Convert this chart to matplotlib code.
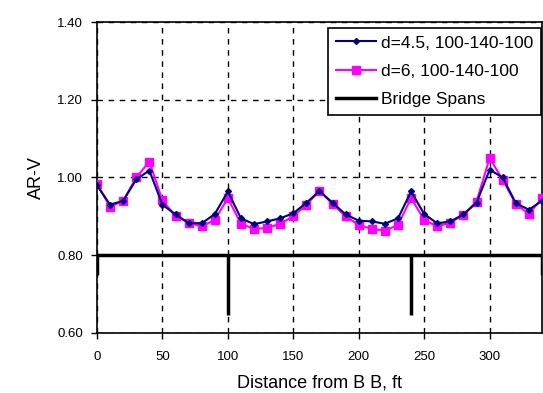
"""AR-V along the bridge for two girder depths, with the bridge spans drawn in."""

import matplotlib

matplotlib.use("Agg")
import matplotlib.pyplot as plt

distance = list(range(0, 350, 10))
arv_d45 = [0.98, 0.93, 0.94, 0.995, 1.018, 0.93, 0.905, 0.883, 0.882, 0.906,
           0.964, 0.895, 0.88, 0.887, 0.895, 0.908, 0.935, 0.965, 0.935, 0.905,
           0.889, 0.887, 0.881, 0.895, 0.964, 0.906, 0.882, 0.887, 0.905, 0.935,
           1.02, 1.0, 0.934, 0.917, 0.94]
arv_d6 = [0.983, 0.925, 0.94, 1.0, 1.041, 0.941, 0.901, 0.884, 0.874, 0.891,
          0.947, 0.881, 0.868, 0.87, 0.881, 0.9, 0.93, 0.966, 0.932, 0.9,
          0.878, 0.868, 0.863, 0.878, 0.947, 0.891, 0.874, 0.884, 0.904, 0.938,
          1.05, 0.994, 0.932, 0.906, 0.947]

span_level = 0.80
support_x = [0, 100, 240, 340]
support_bottom = [0.75, 0.645, 0.645, 0.75]

x_ticks = [0, 50, 100, 150, 200, 250, 300]
y_ticks = [0.60, 0.80, 1.00, 1.20, 1.40]


def main() -> None:
    plt.rcParams["font.family"] = ["Liberation Sans", "DejaVu Sans"]

    fig = plt.figure(figsize=(5.43, 3.93), dpi=100)
    ax = fig.add_axes([0.1786, 0.1527, 0.8195, 0.7913])

    ax.plot(distance, arv_d6, color="#ff00ff", marker="s", markersize=5.5,
            linewidth=1.5, label="d=6, 100-140-100", zorder=3)
    ax.plot(distance, arv_d45, color="#000080", marker="D", markersize=3,
            linewidth=1.5, label="d=4.5, 100-140-100", zorder=4)
    ax.plot([support_x[0], support_x[-1]], [span_level, span_level],
            color="black", linewidth=2.5, label="Bridge Spans", zorder=2)
    ax.vlines(support_x, support_bottom, span_level, color="black",
              linewidth=2.5, zorder=2)

    ax.set_xlim(0, 340)
    ax.set_ylim(0.60, 1.40)
    ax.set_xticks(x_ticks)
    ax.set_yticks(y_ticks)
    ax.set_yticklabels([f"{v:.2f}" for v in y_ticks])
    ax.tick_params(labelsize=9.5, length=4, width=1, direction="out")
    ax.tick_params(axis="x", pad=9)
    ax.tick_params(axis="y", pad=6)
    ax.grid(True, color="black", linestyle=(0, (4, 4)), linewidth=1)
    for spine in ax.spines.values():
        spine.set_linewidth(1.2)

    ax.set_xlabel("Distance from B B, ft", fontsize=13, labelpad=8)
    ax.set_ylabel("AR-V", fontsize=13, labelpad=9)

    handles, labels = ax.get_legend_handles_labels()
    order = [1, 0, 2]
    leg = ax.legend([handles[i] for i in order], [labels[i] for i in order],
                    loc="upper right", bbox_to_anchor=(0.997, 0.982),
                    fontsize=12.5, frameon=True, fancybox=False,
                    borderaxespad=0.0, handlelength=2.3, handletextpad=0.25,
                    labelspacing=0.75, borderpad=0.45)
    leg.get_frame().set_edgecolor("black")
    leg.get_frame().set_linewidth(1.2)
    leg.get_frame().set_alpha(1.0)

    fig.savefig("out.png", dpi=100)


if __name__ == "__main__":
    main()
